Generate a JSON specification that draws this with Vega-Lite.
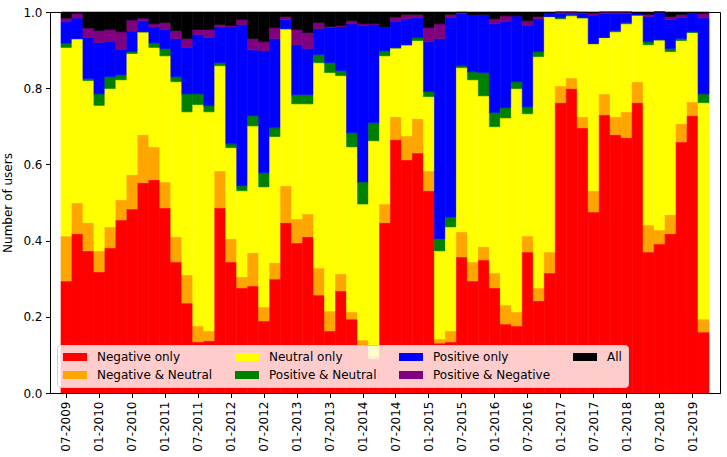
{
  "$schema": "https://vega.github.io/schema/vega-lite/v6.json",
  "autosize": {"type": "none"},
  "padding": {"left": 50, "top": 12, "right": 7, "bottom": 64},
  "width": 670,
  "height": 381,
  "config": {
    "font": "DejaVu Sans",
    "view": {"stroke": "black", "strokeWidth": 1},
    "axis": {
      "grid": false,
      "labelFontSize": 12,
      "labelColor": "black",
      "tickColor": "black",
      "domainColor": "black",
      "tickSize": 4.5,
      "labelPadding": 3.5,
      "titleFontSize": 12,
      "titleFontWeight": "normal",
      "titleColor": "black"
    }
  },
  "data": {
    "values": [
      {"month": "07-2009", "Negative only": 0.294, "Negative & Neutral": 0.118, "Neutral only": 0.495, "Positive & Neutral": 0.011, "Positive only": 0.057, "Positive & Negative": 0.009, "All": 0.016},
      {"month": "09-2009", "Negative only": 0.418, "Negative & Neutral": 0.081, "Neutral only": 0.431, "Positive & Neutral": 0.0, "Positive only": 0.054, "Positive & Negative": 0.012, "All": 0.004},
      {"month": "11-2009", "Negative only": 0.373, "Negative & Neutral": 0.074, "Neutral only": 0.373, "Positive & Neutral": 0.005, "Positive only": 0.108, "Positive & Negative": 0.025, "All": 0.042},
      {"month": "01-2010", "Negative only": 0.318, "Negative & Neutral": 0.055, "Neutral only": 0.382, "Positive & Neutral": 0.030, "Positive only": 0.135, "Positive & Negative": 0.031, "All": 0.049},
      {"month": "03-2010", "Negative only": 0.381, "Negative & Neutral": 0.055, "Neutral only": 0.363, "Positive & Neutral": 0.031, "Positive only": 0.093, "Positive & Negative": 0.031, "All": 0.046},
      {"month": "05-2010", "Negative only": 0.454, "Negative & Neutral": 0.053, "Neutral only": 0.315, "Positive & Neutral": 0.013, "Positive only": 0.067, "Positive & Negative": 0.046, "All": 0.052},
      {"month": "07-2010", "Negative only": 0.483, "Negative & Neutral": 0.090, "Neutral only": 0.318, "Positive & Neutral": 0.005, "Positive only": 0.054, "Positive & Negative": 0.029, "All": 0.021},
      {"month": "09-2010", "Negative only": 0.552, "Negative & Neutral": 0.126, "Neutral only": 0.270, "Positive & Neutral": 0.0, "Positive only": 0.029, "Positive & Negative": 0.007, "All": 0.016},
      {"month": "11-2010", "Negative only": 0.560, "Negative & Neutral": 0.086, "Neutral only": 0.261, "Positive & Neutral": 0.012, "Positive only": 0.042, "Positive & Negative": 0.008, "All": 0.031},
      {"month": "01-2011", "Negative only": 0.486, "Negative & Neutral": 0.068, "Neutral only": 0.331, "Positive & Neutral": 0.019, "Positive only": 0.050, "Positive & Negative": 0.018, "All": 0.028},
      {"month": "03-2011", "Negative only": 0.344, "Negative & Neutral": 0.066, "Neutral only": 0.407, "Positive & Neutral": 0.013, "Positive only": 0.100, "Positive & Negative": 0.021, "All": 0.049},
      {"month": "05-2011", "Negative only": 0.236, "Negative & Neutral": 0.074, "Neutral only": 0.428, "Positive & Neutral": 0.047, "Positive only": 0.122, "Positive & Negative": 0.023, "All": 0.070},
      {"month": "07-2011", "Negative only": 0.134, "Negative & Neutral": 0.042, "Neutral only": 0.581, "Positive & Neutral": 0.028, "Positive only": 0.156, "Positive & Negative": 0.013, "All": 0.046},
      {"month": "09-2011", "Negative only": 0.137, "Negative & Neutral": 0.026, "Neutral only": 0.575, "Positive & Neutral": 0.016, "Positive only": 0.179, "Positive & Negative": 0.021, "All": 0.046},
      {"month": "11-2011", "Negative only": 0.486, "Negative & Neutral": 0.097, "Neutral only": 0.276, "Positive & Neutral": 0.008, "Positive only": 0.094, "Positive & Negative": 0.006, "All": 0.033},
      {"month": "01-2012", "Negative only": 0.344, "Negative & Neutral": 0.061, "Neutral only": 0.239, "Positive & Neutral": 0.010, "Positive only": 0.307, "Positive & Negative": 0.003, "All": 0.036},
      {"month": "03-2012", "Negative only": 0.276, "Negative & Neutral": 0.029, "Neutral only": 0.226, "Positive & Neutral": 0.013, "Positive only": 0.423, "Positive & Negative": 0.013, "All": 0.020},
      {"month": "05-2012", "Negative only": 0.281, "Negative & Neutral": 0.087, "Neutral only": 0.333, "Positive & Neutral": 0.027, "Positive only": 0.173, "Positive & Negative": 0.029, "All": 0.070},
      {"month": "07-2012", "Negative only": 0.189, "Negative & Neutral": 0.037, "Neutral only": 0.315, "Positive & Neutral": 0.037, "Positive only": 0.320, "Positive & Negative": 0.024, "All": 0.078},
      {"month": "09-2012", "Negative only": 0.299, "Negative & Neutral": 0.043, "Neutral only": 0.331, "Positive & Neutral": 0.023, "Positive only": 0.234, "Positive & Negative": 0.029, "All": 0.041},
      {"month": "11-2012", "Negative only": 0.447, "Negative & Neutral": 0.097, "Neutral only": 0.412, "Positive & Neutral": 0.0, "Positive only": 0.024, "Positive & Negative": 0.008, "All": 0.012},
      {"month": "01-2013", "Negative only": 0.394, "Negative & Neutral": 0.063, "Neutral only": 0.302, "Positive & Neutral": 0.024, "Positive only": 0.131, "Positive & Negative": 0.040, "All": 0.046},
      {"month": "03-2013", "Negative only": 0.410, "Negative & Neutral": 0.060, "Neutral only": 0.289, "Positive & Neutral": 0.024, "Positive only": 0.121, "Positive & Negative": 0.042, "All": 0.054},
      {"month": "05-2013", "Negative only": 0.257, "Negative & Neutral": 0.071, "Neutral only": 0.539, "Positive & Neutral": 0.021, "Positive only": 0.068, "Positive & Negative": 0.016, "All": 0.028},
      {"month": "07-2013", "Negative only": 0.163, "Negative & Neutral": 0.052, "Neutral only": 0.626, "Positive & Neutral": 0.026, "Positive only": 0.093, "Positive & Negative": 0.002, "All": 0.038},
      {"month": "09-2013", "Negative only": 0.268, "Negative & Neutral": 0.045, "Neutral only": 0.520, "Positive & Neutral": 0.013, "Positive only": 0.115, "Positive & Negative": 0.003, "All": 0.036},
      {"month": "11-2013", "Negative only": 0.194, "Negative & Neutral": 0.019, "Neutral only": 0.433, "Positive & Neutral": 0.037, "Positive only": 0.286, "Positive & Negative": 0.008, "All": 0.023},
      {"month": "01-2014", "Negative only": 0.125, "Negative & Neutral": 0.014, "Neutral only": 0.357, "Positive & Neutral": 0.058, "Positive only": 0.411, "Positive & Negative": 0.004, "All": 0.031},
      {"month": "03-2014", "Negative only": 0.090, "Negative & Neutral": 0.007, "Neutral only": 0.565, "Positive & Neutral": 0.047, "Positive only": 0.258, "Positive & Negative": 0.002, "All": 0.031},
      {"month": "05-2014", "Negative only": 0.447, "Negative & Neutral": 0.049, "Neutral only": 0.389, "Positive & Neutral": 0.013, "Positive only": 0.063, "Positive & Negative": 0.0, "All": 0.039},
      {"month": "07-2014", "Negative only": 0.665, "Negative & Neutral": 0.060, "Neutral only": 0.181, "Positive & Neutral": 0.0, "Positive only": 0.069, "Positive & Negative": 0.012, "All": 0.013},
      {"month": "09-2014", "Negative only": 0.612, "Negative & Neutral": 0.063, "Neutral only": 0.239, "Positive & Neutral": 0.0, "Positive only": 0.068, "Positive & Negative": 0.011, "All": 0.007},
      {"month": "11-2014", "Negative only": 0.630, "Negative & Neutral": 0.090, "Neutral only": 0.205, "Positive & Neutral": 0.008, "Positive only": 0.052, "Positive & Negative": 0.008, "All": 0.007},
      {"month": "01-2015", "Negative only": 0.531, "Negative & Neutral": 0.052, "Neutral only": 0.195, "Positive & Neutral": 0.013, "Positive only": 0.131, "Positive & Negative": 0.037, "All": 0.041},
      {"month": "03-2015", "Negative only": 0.131, "Negative & Neutral": 0.011, "Neutral only": 0.231, "Positive & Neutral": 0.032, "Positive only": 0.525, "Positive & Negative": 0.039, "All": 0.031},
      {"month": "05-2015", "Negative only": 0.134, "Negative & Neutral": 0.029, "Neutral only": 0.273, "Positive & Neutral": 0.026, "Positive only": 0.524, "Positive & Negative": 0.007, "All": 0.007},
      {"month": "07-2015", "Negative only": 0.357, "Negative & Neutral": 0.066, "Neutral only": 0.431, "Positive & Neutral": 0.005, "Positive only": 0.137, "Positive & Negative": 0.003, "All": 0.001},
      {"month": "09-2015", "Negative only": 0.294, "Negative & Neutral": 0.050, "Neutral only": 0.478, "Positive & Neutral": 0.021, "Positive only": 0.150, "Positive & Negative": 0.0, "All": 0.007},
      {"month": "11-2015", "Negative only": 0.349, "Negative & Neutral": 0.035, "Neutral only": 0.396, "Positive & Neutral": 0.061, "Positive only": 0.152, "Positive & Negative": 0.0, "All": 0.007},
      {"month": "01-2016", "Negative only": 0.276, "Negative & Neutral": 0.039, "Neutral only": 0.384, "Positive & Neutral": 0.037, "Positive only": 0.233, "Positive & Negative": 0.013, "All": 0.018},
      {"month": "03-2016", "Negative only": 0.181, "Negative & Neutral": 0.050, "Neutral only": 0.491, "Positive & Neutral": 0.027, "Positive only": 0.226, "Positive & Negative": 0.015, "All": 0.010},
      {"month": "05-2016", "Negative only": 0.176, "Negative & Neutral": 0.037, "Neutral only": 0.586, "Positive & Neutral": 0.018, "Positive only": 0.173, "Positive & Negative": 0.0, "All": 0.010},
      {"month": "07-2016", "Negative only": 0.370, "Negative & Neutral": 0.042, "Neutral only": 0.321, "Positive & Neutral": 0.018, "Positive only": 0.214, "Positive & Negative": 0.012, "All": 0.023},
      {"month": "09-2016", "Negative only": 0.242, "Negative & Neutral": 0.034, "Neutral only": 0.607, "Positive & Neutral": 0.013, "Positive only": 0.086, "Positive & Negative": 0.006, "All": 0.012},
      {"month": "11-2016", "Negative only": 0.315, "Negative & Neutral": 0.055, "Neutral only": 0.618, "Positive & Neutral": 0.0, "Positive only": 0.009, "Positive & Negative": 0.0, "All": 0.003},
      {"month": "01-2017", "Negative only": 0.762, "Negative & Neutral": 0.044, "Neutral only": 0.176, "Positive & Neutral": 0.003, "Positive only": 0.012, "Positive & Negative": 0.003, "All": 0.0},
      {"month": "03-2017", "Negative only": 0.799, "Negative & Neutral": 0.028, "Neutral only": 0.163, "Positive & Neutral": 0.003, "Positive only": 0.004, "Positive & Negative": 0.003, "All": 0.0},
      {"month": "05-2017", "Negative only": 0.696, "Negative & Neutral": 0.029, "Neutral only": 0.260, "Positive & Neutral": 0.0, "Positive only": 0.012, "Positive & Negative": 0.002, "All": 0.001},
      {"month": "07-2017", "Negative only": 0.475, "Negative & Neutral": 0.056, "Neutral only": 0.386, "Positive & Neutral": 0.0, "Positive only": 0.075, "Positive & Negative": 0.005, "All": 0.003},
      {"month": "09-2017", "Negative only": 0.730, "Negative & Neutral": 0.055, "Neutral only": 0.148, "Positive & Neutral": 0.0, "Positive only": 0.063, "Positive & Negative": 0.004, "All": 0.0},
      {"month": "11-2017", "Negative only": 0.678, "Negative & Neutral": 0.047, "Neutral only": 0.223, "Positive & Neutral": 0.003, "Positive only": 0.045, "Positive & Negative": 0.004, "All": 0.0},
      {"month": "01-2018", "Negative only": 0.670, "Negative & Neutral": 0.068, "Neutral only": 0.231, "Positive & Neutral": 0.003, "Positive only": 0.024, "Positive & Negative": 0.004, "All": 0.0},
      {"month": "03-2018", "Negative only": 0.762, "Negative & Neutral": 0.055, "Neutral only": 0.175, "Positive & Neutral": 0.0, "Positive only": 0.004, "Positive & Negative": 0.0, "All": 0.004},
      {"month": "05-2018", "Negative only": 0.370, "Negative & Neutral": 0.071, "Neutral only": 0.473, "Positive & Neutral": 0.008, "Positive only": 0.066, "Positive & Negative": 0.006, "All": 0.006},
      {"month": "07-2018", "Negative only": 0.391, "Negative & Neutral": 0.037, "Neutral only": 0.499, "Positive & Neutral": 0.0, "Positive only": 0.073, "Positive & Negative": 0.0, "All": 0.0},
      {"month": "09-2018", "Negative only": 0.418, "Negative & Neutral": 0.050, "Neutral only": 0.428, "Positive & Neutral": 0.008, "Positive only": 0.076, "Positive & Negative": 0.008, "All": 0.012},
      {"month": "11-2018", "Negative only": 0.659, "Negative & Neutral": 0.048, "Neutral only": 0.218, "Positive & Neutral": 0.005, "Positive only": 0.055, "Positive & Negative": 0.008, "All": 0.007},
      {"month": "01-2019", "Negative only": 0.728, "Negative & Neutral": 0.036, "Neutral only": 0.182, "Positive & Neutral": 0.002, "Positive only": 0.050, "Positive & Negative": 0.0, "All": 0.002},
      {"month": "03-2019", "Negative only": 0.160, "Negative & Neutral": 0.034, "Neutral only": 0.568, "Positive & Neutral": 0.023, "Positive only": 0.200, "Positive & Negative": 0.011, "All": 0.004}
    ]
  },
  "transform": [
    {"fold": ["Negative only", "Negative & Neutral", "Neutral only", "Positive & Neutral", "Positive only", "Positive & Negative", "All"], "as": ["response", "share"]},
    {"calculate": "indexof(['Negative only', 'Negative & Neutral', 'Neutral only', 'Positive & Neutral', 'Positive only', 'Positive & Negative', 'All'], datum.response)", "as": "stackIdx"}
  ],
  "mark": {"type": "bar", "strokeWidth": 0.6},
  "encoding": {
    "x": {
      "field": "month",
      "type": "ordinal",
      "sort": null,
      "scale": {"paddingInner": 0, "paddingOuter": 3},
      "axis": {
        "title": null,
        "labelAngle": 270,
        "values": ["07-2009", "01-2010", "07-2010", "01-2011", "07-2011", "01-2012", "07-2012", "01-2013", "07-2013", "01-2014", "07-2014", "01-2015", "07-2015", "01-2016", "07-2016", "01-2017", "07-2017", "01-2018", "07-2018", "01-2019"]
      }
    },
    "y": {
      "field": "share",
      "type": "quantitative",
      "stack": "zero",
      "scale": {"domain": [0, 1], "nice": false},
      "axis": {"title": "Number of users", "values": [0, 0.2, 0.4, 0.6, 0.8, 1.0], "format": ".1f", "titlePadding": 8}
    },
    "order": {"field": "stackIdx", "type": "quantitative"},
    "stroke": {
      "field": "response",
      "type": "nominal",
      "scale": {
        "domain": ["Negative only", "Negative & Neutral", "Neutral only", "Positive & Neutral", "Positive only", "Positive & Negative", "All"],
        "range": ["#ff0000", "#ffa500", "#ffff00", "#008000", "#0000ff", "#800080", "#000000"]
      },
      "legend": null
    },
    "color": {
      "field": "response",
      "type": "nominal",
      "scale": {
        "domain": ["Negative only", "Negative & Neutral", "Neutral only", "Positive & Neutral", "Positive only", "Positive & Negative", "All"],
        "range": ["#ff0000", "#ffa500", "#ffff00", "#008000", "#0000ff", "#800080", "#000000"]
      },
      "legend": {
        "title": null,
        "orient": "none",
        "legendX": 7,
        "legendY": 333,
        "columns": 4,
        "columnPadding": 22,
        "rowPadding": 6,
        "padding": 6,
        "fillColor": "rgba(255,255,255,0.8)",
        "strokeColor": "#cccccc",
        "cornerRadius": 3,
        "symbolType": "M-1,-0.67H3V0.67H-1Z",
        "symbolSize": 144,
        "symbolStrokeWidth": 0,
        "symbolOpacity": 1,
        "labelFontSize": 12,
        "labelColor": "black",
        "labelOffset": 22,
        "labelLimit": 300
      }
    }
  }
}
